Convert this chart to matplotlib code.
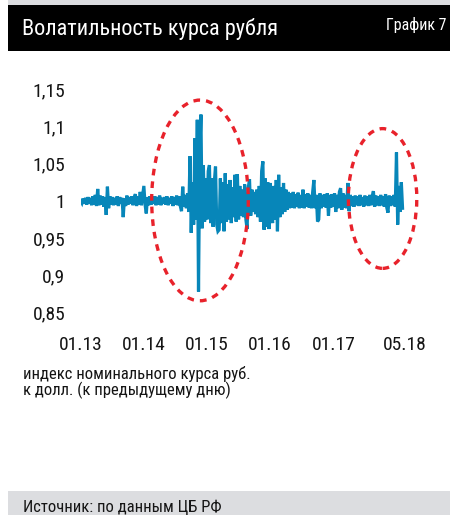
import numpy as np
import matplotlib
matplotlib.use("Agg")
import matplotlib.pyplot as plt
from matplotlib import font_manager
from matplotlib.patches import Rectangle, Ellipse

# index of nominal rub/usd rate to previous period (~weekly)
y2013 = [1.000, 0.997, 1.003, 0.996, 1.004, 0.995, 1.005, 0.996, 1.004, 0.994,
         1.006, 0.995, 1.008, 0.993, 1.016, 0.994, 1.007, 0.995, 1.006, 0.992,
         1.005, 0.981, 1.019, 0.990, 1.006, 0.995, 1.005, 0.994, 1.004, 0.995,
         1.006, 0.993, 1.005, 0.996, 1.004, 0.978, 1.003, 0.993, 1.007, 0.995,
         1.005, 0.996, 1.006, 0.994, 1.004, 1.009, 0.993, 1.006, 0.995, 1.012,
         0.994, 1.007]
y2014 = [1.020, 0.995, 0.983, 1.005, 0.994, 1.006, 0.995, 1.004, 0.996, 1.006,
         0.994, 1.005, 0.995, 1.007, 0.994, 1.004, 0.996, 1.005, 0.995, 1.006,
         0.994, 1.004, 0.996, 1.006, 0.993, 1.005, 0.995, 1.007, 0.994, 1.006,
         0.993, 0.986, 1.019, 0.992, 1.008, 0.990, 1.010, 0.985, 1.060, 0.957,
         1.025, 0.968, 1.084, 0.975, 1.109, 0.878, 1.060, 1.116, 0.963, 1.048,
         0.972, 1.030]
y2015 = [0.975, 1.040, 1.048, 0.970, 1.030, 0.965, 1.025, 1.046, 0.968, 0.959,
         0.961, 1.030, 0.970, 1.025, 0.959, 1.037, 0.972, 1.022, 0.975, 1.028,
         0.970, 1.018, 0.978, 1.035, 0.972, 1.036, 0.975, 1.020, 0.980, 1.015,
         0.978, 1.022, 0.975, 0.962, 1.018, 1.029, 0.980, 1.015, 0.985, 1.012,
         0.982, 1.015, 0.978, 1.020, 0.972, 1.040, 1.053, 0.961, 1.030, 0.965,
         1.025, 0.962]
y2016 = [1.024, 0.985, 0.970, 1.020, 0.975, 1.028, 0.959, 1.035, 0.978, 1.018,
         0.982, 1.024, 0.985, 1.015, 0.988, 1.012, 0.990, 1.010, 0.991, 1.012,
         0.990, 1.009, 0.992, 1.011, 0.990, 1.008, 0.991, 1.015, 0.990, 1.009,
         0.992, 1.010, 0.991, 1.008, 0.990, 1.012, 1.028, 0.990, 1.008, 0.972,
         0.975, 1.010, 0.990, 1.008, 0.992, 1.009, 0.991, 1.010, 0.980, 1.008,
         0.991, 1.009]
y2017 = [0.992, 1.010, 0.985, 1.008, 0.990, 1.012, 1.017, 0.988, 1.010, 0.991,
         1.008, 0.990, 1.024, 0.986, 1.008, 0.993, 1.006, 0.992, 1.007, 0.994,
         1.006, 0.993, 1.008, 0.994, 1.005, 0.992, 1.007, 0.994, 1.006, 0.993,
         1.008, 0.994, 1.006, 1.013, 0.992, 1.007, 0.994, 1.006, 0.993, 1.008,
         0.994, 1.006, 0.992, 1.009, 0.991, 0.984, 1.007, 0.993, 1.006, 0.994,
         1.008, 0.992]
y2018 = [1.065, 0.968, 1.020, 0.985, 1.025, 0.990]

tick_pos = [0, 1, 2, 3, 4, 5.135]
tick_labels = ["01.13", "01.14", "01.15", "01.16", "01.17", "05.18"]
y_ticks = [0.85, 0.9, 0.95, 1.0, 1.05, 1.1, 1.15]
y_labels = ["0,85", "0,9", "0,95", "1", "1,05", "1,1", "1,15"]

values = np.array(y2013 + y2014 + y2015 + y2016 + y2017 + y2018)
t = np.arange(len(values)) / 52.0  # years since 01.2013

# font: condensed if we have one
avail = {f.name for f in font_manager.fontManager.ttflist}
fam = "DejaVu Sans"
for name in ["Liberation Sans Narrow", "Roboto Condensed", "Open Sans Condensed", "Liberation Sans"]:
    if name in avail:
        fam = name
        break
plt.rcParams["font.family"] = [fam, "DejaVu Sans"]

GRAY = "#dcdde0"
BLUE = "#0786b9"
RED = "#e8222b"
TXT = "#151515"
W, H = 450, 515

fig = plt.figure(figsize=(W / 100, H / 100), dpi=100)
fig.patch.set_facecolor("white")

def px(x, y):
    return x / W, 1 - y / H

# background panels
fig.add_artist(Rectangle(px(8, 51), (W - 8) / W, (489 - 51) / H, transform=fig.transFigure,
                         facecolor=GRAY, edgecolor="none", zorder=0))
fig.add_artist(Rectangle(px(8, 515), (W - 8) / W, (515 - 491) / H, transform=fig.transFigure,
                         facecolor=GRAY, edgecolor="none", zorder=0))
fig.add_artist(Rectangle(px(8, 51), (W - 8) / W, (51 - 5) / H, transform=fig.transFigure,
                         facecolor="black", edgecolor="none", zorder=0))

fig.text(*px(22, 29), "Волатильность курса рубля", color="white", fontsize=16,
         va="center", ha="left")
fig.text(*px(447, 25), "График 7", color="white", fontsize=11.5, va="center", ha="right")

ax = fig.add_axes([80.7 / W, 1 - 312.3 / H, (405 - 80.7) / W, (312.3 - 89.3) / H])
ax.set_facecolor("none")
ax.plot(t, values, color=BLUE, lw=2.3, solid_joinstyle="miter", zorder=3)

ax.set_xlim(0, 5.135)
ax.set_ylim(0.85, 1.15)
ax.set_yticks(y_ticks)
ax.set_yticklabels(y_labels)
ax.set_xticks(tick_pos)
ax.set_xticklabels(tick_labels)
ax.grid(axis="y", color="white", lw=1.5, zorder=1)
for s in ["top"]:
    ax.spines[s].set_visible(False)
for s in ["left", "right", "bottom"]:
    ax.spines[s].set_color("white")
    ax.spines[s].set_linewidth(1.5)
ax.tick_params(axis="y", colors="white", length=7, width=1.5, pad=4, labelcolor=TXT,
               labelsize=14)
ax.tick_params(axis="x", colors="white", length=6, width=1.5, pad=11, labelcolor=TXT,
               labelsize=14)

# highlight ellipses
ax.add_patch(Ellipse((1.889, 1.0005), 1.53, 0.270, fill=False, edgecolor=RED, lw=2.4,
                     linestyle=(0, (2, 1.8)), zorder=4, clip_on=False))
ax.add_patch(Ellipse((4.78, 1.0031), 1.083, 0.188, fill=False, edgecolor=RED, lw=2.4,
                     linestyle=(0, (2, 1.8)), zorder=4, clip_on=False))

fig.text(*px(23, 366), "индекс номинального курса руб.\nк долл. (к предыдущему дню)",
         color=TXT, fontsize=12, va="top", ha="left", linespacing=0.95)
fig.text(*px(23, 507), "Источник: по данным ЦБ РФ", color=TXT, fontsize=12,
         va="center", ha="left")

fig.savefig("out.png", dpi=100)
